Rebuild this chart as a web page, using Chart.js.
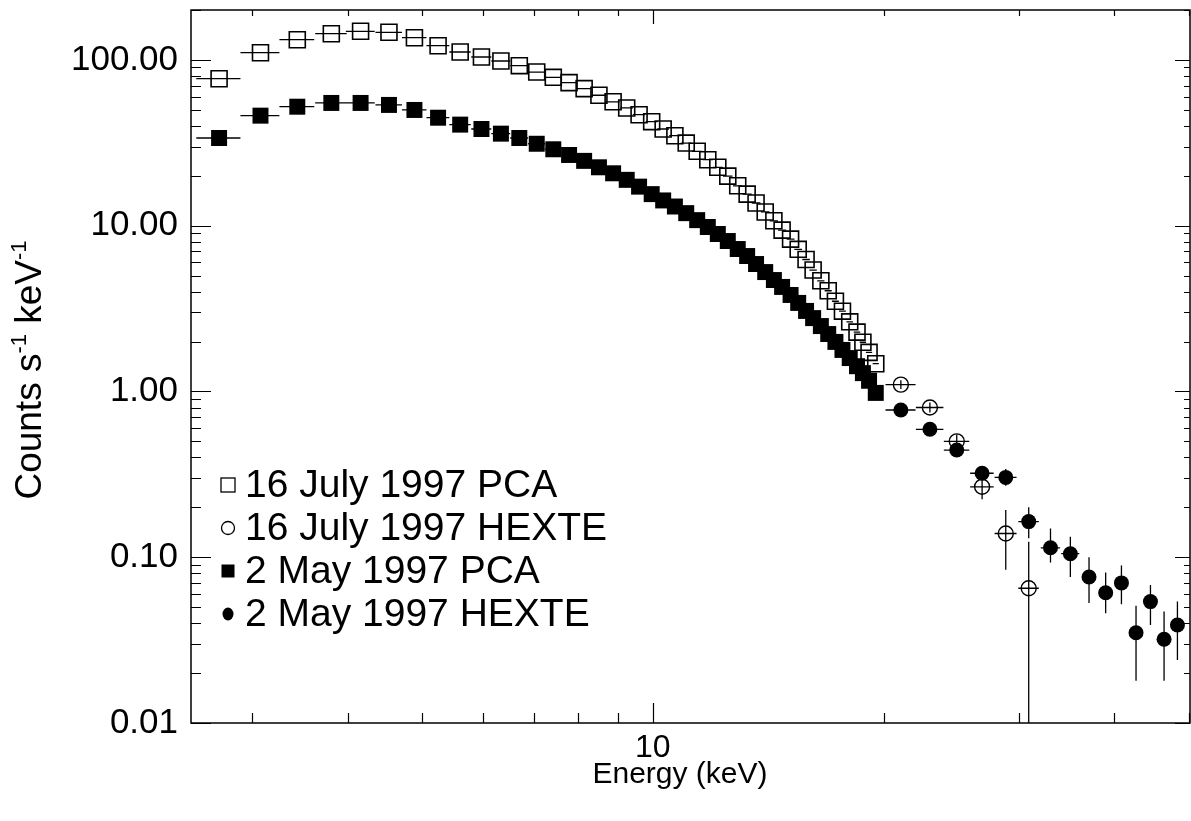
<!DOCTYPE html>
<html>
<head>
<meta charset="utf-8">
<title>Counts spectrum</title>
<script src="https://cdn.jsdelivr.net/npm/chart.js@4.4.1/dist/chart.umd.min.js"></script>
<style>
  html, body { margin: 0; padding: 0; background: #fff; overflow: hidden; }
  #wrap { width: 1191px; height: 821px; }
</style>
</head>
<body>
<div id="wrap"><canvas id="spec" width="1191" height="821"></canvas></div>
<script>
// PCA channels (keV) and count rates
const pcaEnergy = [2.72, 3.08, 3.44, 3.81, 4.16, 4.53, 4.89, 5.25, 5.61, 5.98, 6.34, 6.70, 7.06, 7.42, 7.78, 8.14,
  8.51, 8.88, 9.25, 9.60, 9.97, 10.32, 10.69, 11.06, 11.43, 11.80, 12.16, 12.53, 12.91, 13.28, 13.64, 14.02,
  14.39, 14.75, 15.13, 15.48, 15.85, 16.19, 16.57, 16.94, 17.31, 17.68, 18.07, 18.47, 18.80, 19.15, 19.54];
const pcaHalfWidth = 0.18;
const julyPca = [77.0, 110.5, 132.4, 143.9, 148.8, 146.7, 136.1, 121.8, 111.6, 104.1, 98.5, 92.3, 84.5, 78.5, 72.9, 67.1,
  61.2, 55.9, 51.3, 46.7, 42.4, 38.3, 34.9, 31.5, 28.1, 25.0, 22.5, 19.9, 17.4, 15.5, 13.7, 12.1,
  10.7, 9.4, 8.3, 7.2, 6.25, 5.4, 4.65, 4.05, 3.5, 3.05, 2.63, 2.28, 1.98, 1.72, 1.47];
const mayPca = [33.8, 46.1, 52.2, 55.0, 55.0, 53.5, 49.9, 44.8, 40.7, 38.3, 35.9, 33.8, 31.2, 28.9, 26.7, 24.6,
  22.5, 20.7, 18.9, 17.2, 15.5, 14.2, 13.05, 11.9, 10.8, 9.82, 8.91, 8.08, 7.23, 6.56, 5.87, 5.25,
  4.70, 4.27, 3.82, 3.42, 3.06, 2.77, 2.48, 2.22, 1.99, 1.78, 1.59, 1.42, 1.29, 1.16, 0.98];

// HEXTE bins
const julyHexteEnergy = [21.07, 22.99, 24.92, 26.89, 28.87, 30.93];
const julyHexteXerr = [0.95, 0.95, 0.95, 0.95, 0.95, 0.95];
const julyHexte = [1.10, 0.80, 0.50, 0.266, 0.139, 0.065];
const julyHexteLo = [1.036, 0.746, 0.455, 0.224, 0.084, 0.001];
const julyHexteHi = [1.168, 0.858, 0.549, 0.299, 0.193, 0.124];

const mayHexteEnergy = [21.07, 22.99, 24.92, 26.89, 28.87, 30.93, 33.02, 35.05, 37.07, 38.97, 40.86, 42.69, 44.58, 46.44, 48.34];
const mayHexteXerr = [0.95, 0.95, 0.95, 0.95, 0.95, 0.95, 0.95, 0.95, 0, 0, 0, 0, 0, 0, 0];
const mayHexte = [0.773, 0.591, 0.443, 0.321, 0.303, 0.164, 0.114, 0.105, 0.076, 0.061, 0.070, 0.035, 0.054, 0.032, 0.039];
const mayHexteLo = [0.74, 0.56, 0.41, 0.29, 0.27, 0.13, 0.093, 0.076, 0.053, 0.046, 0.052, 0.018, 0.039, 0.018, 0.024];
const mayHexteHi = [0.81, 0.62, 0.48, 0.355, 0.34, 0.20, 0.149, 0.133, 0.100, 0.081, 0.089, 0.051, 0.068, 0.047, 0.054];

// axes
const yMajorTicks = [0.01, 0.1, 1, 10, 100];
const xLabelTicks = [10];
const xMinorTicks = [3, 4, 5, 6, 7, 8, 9, 20, 30, 40, 50];
const legendLabels = ['16 July 1997 PCA', '16 July 1997 HEXTE', '2 May 1997 PCA', '2 May 1997 HEXTE'];

const FONT = "'Liberation Sans', Arial, Helvetica, sans-serif";
const pts = (xs, ys) => xs.map((x, i) => ({ x: x, y: ys[i] }));

// error bars, frame and inward ticks
const decorations = {
  id: 'decorations',
  beforeDatasetsDraw(chart) {
    const { ctx, chartArea: a, scales: { x, y } } = chart;
    ctx.save();
    ctx.strokeStyle = '#000';

    // frame
    ctx.lineWidth = 1.5;
    ctx.strokeRect(a.left, a.top, a.right - a.left, a.bottom - a.top);

    // y ticks, left and right
    ctx.lineWidth = 1.2;
    ctx.beginPath();
    yMajorTicks.forEach(d => {
      for (let m = 1; m <= 9; m++) {
        const v = d * m;
        if (v > y.max) break;
        const py = Math.round(y.getPixelForValue(v)) + 0.5;
        const major = m === 1;
        ctx.moveTo(a.left, py); ctx.lineTo(a.left + (major ? 20 : 10), py);
        ctx.moveTo(a.right, py); ctx.lineTo(a.right - (major ? 15 : 6), py);
      }
    });
    // x ticks, bottom and top
    const xt = xMinorTicks.map(v => [v, false]).concat(xLabelTicks.map(v => [v, true]));
    xt.forEach(([v, major]) => {
      const px = Math.round(x.getPixelForValue(v)) + 0.5;
      ctx.moveTo(px, a.bottom); ctx.lineTo(px, a.bottom - (major ? 20 : 10));
      ctx.moveTo(px, a.top); ctx.lineTo(px, a.top + (major ? 14 : 6));
    });
    ctx.stroke();

    // error bars
    ctx.beginPath();
    ctx.rect(a.left, a.top, a.right - a.left, a.bottom - a.top);
    ctx.clip();
    ctx.lineWidth = 1.3;
    const hbar = (e, half, v) => {
      if (!half) return;
      const py = y.getPixelForValue(v);
      ctx.moveTo(x.getPixelForValue(e - half), py);
      ctx.lineTo(x.getPixelForValue(e + half), py);
    };
    const vbar = (e, lo, hi) => {
      const px = x.getPixelForValue(e);
      ctx.moveTo(px, y.getPixelForValue(lo));
      ctx.lineTo(px, y.getPixelForValue(hi));
    };
    ctx.beginPath();
    pcaEnergy.forEach((e, i) => {
      hbar(e, pcaHalfWidth, julyPca[i]);
      hbar(e, pcaHalfWidth, mayPca[i]);
    });
    julyHexteEnergy.forEach((e, i) => {
      hbar(e, julyHexteXerr[i], julyHexte[i]);
      vbar(e, julyHexteLo[i], julyHexteHi[i]);
    });
    mayHexteEnergy.forEach((e, i) => {
      hbar(e, mayHexteXerr[i], mayHexte[i]);
      vbar(e, mayHexteLo[i], mayHexteHi[i]);
    });
    ctx.stroke();
    ctx.restore();
  },
  afterDraw(chart) {
    const { ctx } = chart;
    ctx.save();
    ctx.fillStyle = '#000';
    ctx.strokeStyle = '#000';

    // x title
    ctx.font = '30px ' + FONT;
    ctx.textAlign = 'center';
    ctx.textBaseline = 'alphabetic';
    ctx.fillText('Energy (keV)', 680, 783);

    // y title with superscripts
    const parts = [['Counts s', false], ['-1', true], [' keV', false], ['-1', true]];
    const fontFor = sup => (sup ? '22px ' : '37px ') + FONT;
    let total = 0;
    parts.forEach(([t, sup]) => { ctx.font = fontFor(sup); total += ctx.measureText(t).width; });
    ctx.translate(41, 370);
    ctx.rotate(-Math.PI / 2);
    ctx.textAlign = 'left';
    let cx = -total / 2;
    parts.forEach(([t, sup]) => {
      ctx.font = fontFor(sup);
      ctx.fillText(t, cx, sup ? -15 : 0);
      cx += ctx.measureText(t).width;
    });
    ctx.setTransform(1, 0, 0, 1, 0, 0);

    // legend
    const rows = [485, 528, 571, 614];
    ctx.font = '39px ' + FONT;
    ctx.textAlign = 'left';
    ctx.textBaseline = 'middle';
    ctx.lineWidth = 1.3;
    rows.forEach((ry, i) => {
      const sx = 228;
      ctx.beginPath();
      if (i === 0) ctx.strokeRect(sx - 7, ry - 7, 14, 14);
      if (i === 1) { ctx.arc(sx, ry, 6.5, 0, Math.PI * 2); ctx.stroke(); }
      if (i === 2) ctx.fillRect(sx - 6.5, ry - 6.5, 13, 13);
      if (i === 3) { ctx.ellipse(sx, ry, 5.5, 6.5, 0, 0, Math.PI * 2); ctx.fill(); }
      ctx.fillText(legendLabels[i], 245, ry + 1);
    });
    ctx.restore();
  }
};

new Chart(document.getElementById('spec'), {
  type: 'scatter',
  data: {
    datasets: [
      { label: legendLabels[0], data: pts(pcaEnergy, julyPca), pointStyle: 'rect', pointRadius: 11.3,
        backgroundColor: 'rgba(0,0,0,0)', borderColor: '#000', borderWidth: 1.6 },
      { label: legendLabels[1], data: pts(julyHexteEnergy, julyHexte), pointStyle: 'circle', pointRadius: 7.5,
        backgroundColor: 'rgba(0,0,0,0)', borderColor: '#000', borderWidth: 1.4 },
      { label: legendLabels[2], data: pts(pcaEnergy, mayPca), pointStyle: 'rect', pointRadius: 11.3,
        backgroundColor: '#000', borderColor: '#000', borderWidth: 0 },
      { label: legendLabels[3], data: pts(mayHexteEnergy, mayHexte), pointStyle: 'circle', pointRadius: 7.5,
        backgroundColor: '#000', borderColor: '#000', borderWidth: 0 }
    ]
  },
  options: {
    responsive: false,
    animation: false,
    events: [],
    layout: { autoPadding: false, padding: { top: 10, right: 1, left: 0, bottom: 0 } },
    plugins: { legend: { display: false }, tooltip: { enabled: false } },
    scales: {
      x: {
        type: 'logarithmic', min: 2.5, max: 50.2,
        afterBuildTicks: s => { s.ticks = xLabelTicks.map(v => ({ value: v })); },
        afterFit: s => { s.height = 98; s.paddingLeft = 0; s.paddingRight = 0; },
        grid: { display: false, drawTicks: false },
        border: { display: false },
        ticks: { autoSkip: false, maxRotation: 0, padding: 6, color: '#000',
          font: { family: FONT, size: 32 }, callback: v => String(v) }
      },
      y: {
        type: 'logarithmic', min: 0.01, max: 200,
        afterBuildTicks: s => { s.ticks = yMajorTicks.map(v => ({ value: v })); },
        afterFit: s => { s.width = 191; s.paddingTop = 0; s.paddingBottom = 0; },
        grid: { display: false, drawTicks: false },
        border: { display: false },
        ticks: { autoSkip: false, padding: 13, color: '#000',
          font: { family: FONT, size: 35 }, callback: v => Number(v).toFixed(2) }
      }
    }
  },
  plugins: [decorations]
});
</script>
</body>
</html>
